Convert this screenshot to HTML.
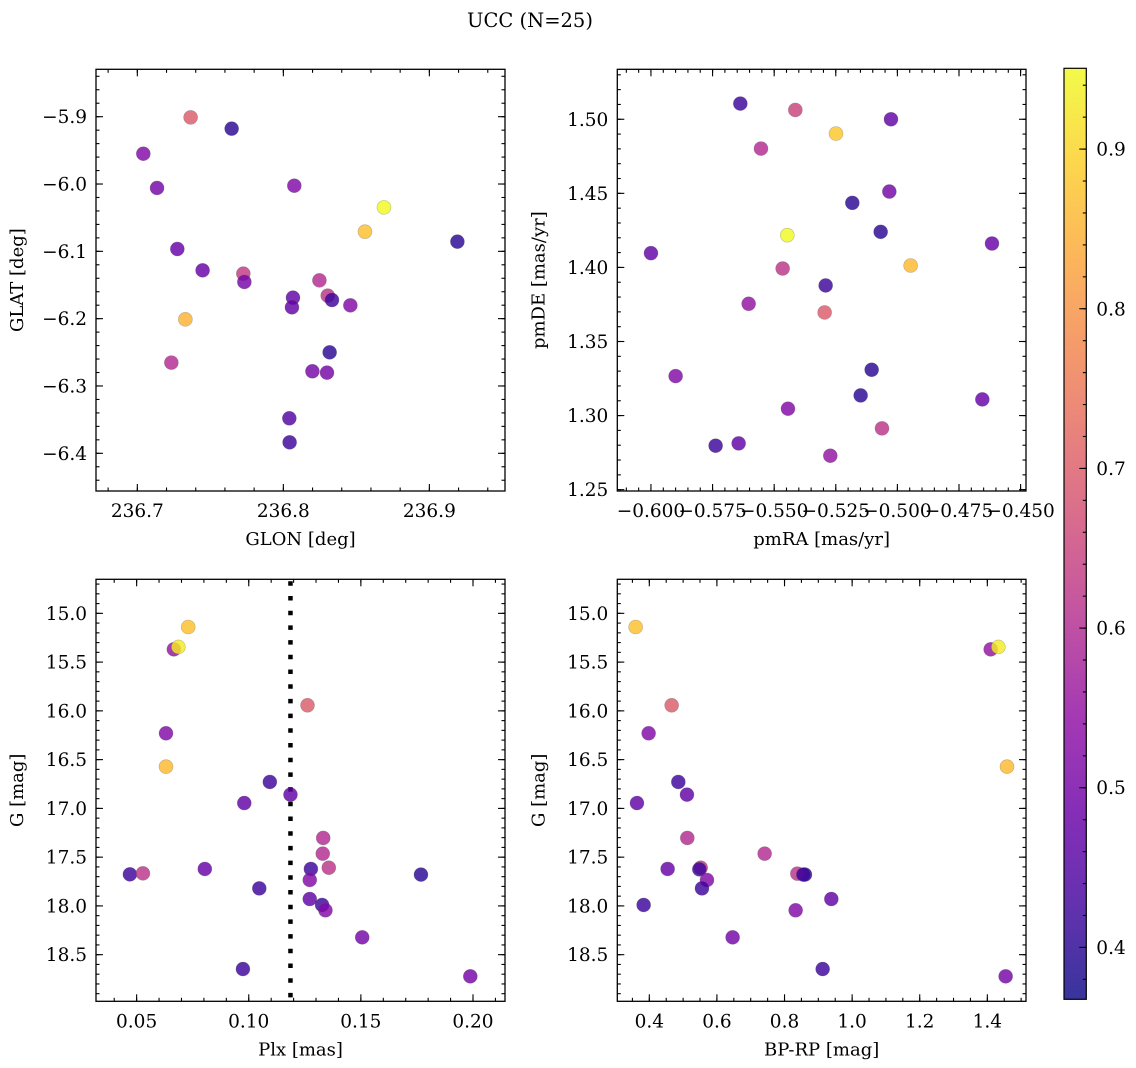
<!DOCTYPE html>
<html><head><meta charset="utf-8">
<style>
html,body{margin:0;padding:0;background:#fff;}
svg{display:block;font-family:"DejaVu Serif","Liberation Serif",serif;}
</style></head>
<body>
<svg id="fig" width="1136" height="1068" viewBox="0 0 1136 1068" xmlns="http://www.w3.org/2000/svg">
<text x="530" y="27" font-size="19.5" text-anchor="middle">UCC (N=25)</text>
</svg>
<script>
// ---- Panel 1: GLON vs GLAT ----
const p1Glon = [236.7041,236.7135,236.7365,236.7646,236.7274,236.7447,236.7726,236.7733,236.7329,236.7233,236.8075,236.8689,236.8559,236.9192,236.8247,236.8066,236.8059,236.8304,236.8333,236.8459,236.8317,236.8199,236.8299,236.8041,236.8043];
const p1Glat = [-5.9550,-6.0059,-5.9010,-5.9178,-6.0965,-6.1282,-6.1332,-6.1455,-6.2010,-6.2653,-6.0025,-6.0347,-6.0708,-6.0856,-6.1431,-6.1688,-6.1832,-6.1658,-6.1723,-6.1802,-6.2500,-6.2782,-6.2802,-6.3480,-6.3837];
const p1Prob = [0.52,0.50,0.70,0.40,0.48,0.48,0.63,0.50,0.85,0.60,0.52,0.95,0.87,0.40,0.60,0.47,0.47,0.62,0.42,0.52,0.40,0.50,0.50,0.45,0.42];
const p1XTicks = [236.7,236.8,236.9];
const p1YTicks = [-5.9,-6.0,-6.1,-6.2,-6.3,-6.4];
// ---- Panel 2: pmRA vs pmDE ----
const p2PmRA = [-0.56374,-0.54142,-0.50260,-0.52492,-0.55536,-0.50327,-0.51829,-0.50679,-0.54467,-0.60000,-0.46161,-0.54656,-0.49462,-0.52911,-0.56036,-0.52952,-0.58999,-0.51044,-0.51491,-0.54440,-0.46553,-0.50625,-0.56442,-0.57376,-0.52722];
const p2PmDE = [1.51057,1.50629,1.50000,1.49033,1.48022,1.45121,1.44357,1.42401,1.42176,1.40962,1.41614,1.39928,1.40130,1.38781,1.37545,1.36960,1.32666,1.33093,1.31362,1.30463,1.31093,1.29137,1.28125,1.27967,1.27293];
const p2Prob = [0.42,0.65,0.47,0.88,0.60,0.50,0.40,0.40,0.95,0.47,0.48,0.62,0.86,0.42,0.55,0.70,0.52,0.40,0.40,0.52,0.48,0.62,0.47,0.42,0.55];
const p2XTicks = [-0.600,-0.575,-0.550,-0.525,-0.500,-0.475,-0.450];
const p2YTicks = [1.25,1.30,1.35,1.40,1.45,1.50];
// ---- Panel 3: Plx vs G ----
const p3Plx = [0.0730,0.0666,0.0686,0.1262,0.0631,0.0631,0.1094,0.0980,0.1186,0.1332,0.1330,0.1357,0.1277,0.1272,0.1272,0.1327,0.1342,0.0470,0.0528,0.0804,0.1047,0.1768,0.1506,0.0974,0.1988];
const p3G = [15.140,15.369,15.345,15.943,16.230,16.572,16.729,16.945,16.859,17.303,17.464,17.608,17.621,17.734,17.929,17.990,18.045,17.676,17.666,17.621,17.820,17.679,18.322,18.647,18.722];
const p3Prob = [0.87,0.55,0.93,0.70,0.52,0.86,0.42,0.47,0.47,0.60,0.60,0.62,0.42,0.52,0.47,0.42,0.52,0.42,0.62,0.48,0.42,0.40,0.50,0.42,0.50];
const p3XTicks = [0.05,0.10,0.15,0.20];
const gTicks = [15.0,15.5,16.0,16.5,17.0,17.5,18.0,18.5];
const plxLine = [0.1186];
// ---- Panel 4: BP-RP vs G ----
const p4BpRp = [0.3596,1.4099,1.4325,0.4661,0.3980,1.4582,0.4858,0.3635,0.5114,0.5124,0.7412,0.5519,0.5479,0.5706,0.9385,0.3832,0.8329,0.8605,0.8379,0.4542,0.5558,0.6465,0.9128,1.4542,0.8556];
const p4G = [15.140,15.369,15.345,15.943,16.230,16.572,16.729,16.945,16.859,17.303,17.464,17.608,17.625,17.734,17.929,17.990,18.045,17.679,17.669,17.621,17.820,18.322,18.647,18.722,17.679];
const p4Prob = [0.87,0.55,0.93,0.70,0.52,0.86,0.42,0.47,0.47,0.60,0.60,0.62,0.42,0.52,0.47,0.42,0.52,0.40,0.62,0.48,0.42,0.50,0.42,0.50,0.42];
const p4XTicks = [0.4,0.6,0.8,1.0,1.2,1.4];
// ---- Colorbar ----
const cbTicks = [0.4,0.5,0.6,0.7,0.8,0.9];
const cbRange = [0.3675,0.9506];

const NS = "http://www.w3.org/2000/svg";
const svg = document.getElementById('fig');
function mk(tag, attrs, parent){ const e=document.createElementNS(NS,tag); for(const k in attrs) e.setAttribute(k,attrs[k]); (parent||svg).appendChild(e); return e; }

const plasma = [[13,8,135],[65,4,157],[106,0,168],[143,13,164],[177,42,144],[204,71,120],[225,100,98],[242,132,75],[252,166,54],[252,206,37],[240,249,33]];
function cmap(t){ t=Math.max(0,Math.min(1,t)); const f=t*10, i=Math.min(9,Math.floor(f)), r=f-i; const a=plasma[i], b=plasma[i+1];
  return 'rgb('+[0,1,2].map(k=>Math.round(a[k]+(b[k]-a[k])*r)).join(',')+')'; }
function pc(v){ return cmap((v-cbRange[0])/(cbRange[1]-cbRange[0])); }
function fmt(v,d){ const s=Math.abs(v).toFixed(d); return (v<0?'\u2212':'')+s; }

const TF = 18.5, LF = 18;
function panel(o){
  const g=mk('g',{});
  
  
  const sx=v=>o.x0+(v-o.xd[0])/(o.xd[1]-o.xd[0])*(o.x1-o.x0);
  const sy=v=>o.y1-(v-o.yd[0])/(o.yd[1]-o.yd[0])*(o.y1-o.y0);
  const mt=(lo,hi,step)=>{const out=[];const s=Math.ceil(lo/step-1e-6);for(let k=s;k*step<=hi+1e-9;k++)out.push(k*step);return out;};
  const tg=mk('g',{stroke:'#000','stroke-width':1.1},g);
  
  
  const xmin=Math.min(...o.xd), xmax=Math.max(...o.xd), ymin=Math.min(...o.yd), ymax=Math.max(...o.yd);
  mt(xmin,xmax,o.xminor).forEach(v=>{const x=sx(v); mk('line',{x1:x,x2:x,y1:o.y1,y2:o.y1-3.5},tg); mk('line',{x1:x,x2:x,y1:o.y0,y2:o.y0+3.5},tg);});
  mt(ymin,ymax,o.yminor).forEach(v=>{const y=sy(v); mk('line',{x1:o.x0,x2:o.x0+3.5,y1:y,y2:y},tg); mk('line',{x1:o.x1,x2:o.x1-3.5,y1:y,y2:y},tg);});
  o.xt.forEach(v=>{const x=sx(v); mk('line',{x1:x,x2:x,y1:o.y1,y2:o.y1-7},tg); mk('line',{x1:x,x2:x,y1:o.y0,y2:o.y0+7},tg);
    const t=mk('text',{x:x,y:o.y1+26,'font-size':TF,'text-anchor':'middle'},g); t.textContent=fmt(v,o.xdec);
     });
  o.yt.forEach(v=>{const y=sy(v); mk('line',{x1:o.x0,x2:o.x0+7,y1:y,y2:y},tg); mk('line',{x1:o.x1,x2:o.x1-7,y1:y,y2:y},tg);
    const t=mk('text',{x:o.x0-9,y:y+6.5,'font-size':TF,'text-anchor':'end'},g); t.textContent=fmt(v,o.ydec);
     });
  if(o.vline){ o.vline.forEach(v=>{const l=mk('line',{x1:sx(v),x2:sx(v),y1:o.y0+2,y2:o.y1,stroke:'#000','stroke-width':4.5,'stroke-dasharray':'4.5 10.2'},g);
     }); }
  const pg=mk('g',{},g);
   
  o.xs.forEach((v,i)=>{const c=mk('circle',{cx:sx(v),cy:sy(o.ys[i]),r:7,fill:pc(o.p[i]),'fill-opacity':0.82,stroke:'rgba(80,80,80,0.35)','stroke-width':0.6},pg);
     });
  const fr=mk('rect',{x:o.x0,y:o.y0,width:o.x1-o.x0,height:o.y1-o.y0,fill:'none',stroke:'#000','stroke-width':1.3},g);
   
  const xl=mk('text',{x:(o.x0+o.x1)/2,y:o.y1+54,'font-size':LF,'text-anchor':'middle'},g); xl.textContent=o.xlabel;
   
  const yc=(o.y0+o.y1)/2, yx=o.x0-73;
  const yl=mk('text',{x:yx,y:yc,'font-size':LF,'text-anchor':'middle',transform:'rotate(-90 '+yx+' '+yc+')'},g); yl.textContent=o.ylabel;
   
}

panel({name:'glon-glat-panel',x0:96,x1:505,y0:69.3,y1:491,xd:[236.6717,236.9518],yd:[-6.456,-5.8296],xs:p1Glon,ys:p1Glat,p:p1Prob,xt:p1XTicks,yt:p1YTicks,xminor:0.02,yminor:0.02,xdec:1,ydec:1,xlabel:'GLON [deg]',ylabel:'GLAT [deg]'});
panel({name:'pm-panel',x0:617.3,x1:1026,y0:69.3,y1:491,xd:[-0.61366,-0.44781],yd:[1.2491,1.53372],xs:p2PmRA,ys:p2PmDE,p:p2Prob,xt:p2XTicks,yt:p2YTicks,xminor:0.005,yminor:0.01,xdec:3,ydec:2,xlabel:'pmRA [mas/yr]',ylabel:'pmDE [mas/yr]'});
panel({name:'plx-g-panel',x0:96,x1:505,y0:579.3,y1:1001.3,xd:[0.03188,0.21427],yd:[18.978,14.651],xs:p3Plx,ys:p3G,p:p3Prob,xt:p3XTicks,yt:gTicks,xminor:0.01,yminor:0.1,xdec:2,ydec:1,xlabel:'Plx [mas]',ylabel:'G [mag]',vline:plxLine});
panel({name:'cmd-panel',x0:617.3,x1:1026,y0:579.3,y1:1001.3,xd:[0.3053,1.5144],yd:[18.978,14.651],xs:p4BpRp,ys:p4G,p:p4Prob,xt:p4XTicks,yt:gTicks,xminor:0.05,yminor:0.1,xdec:1,ydec:1,xlabel:'BP-RP [mag]',ylabel:'G [mag]'});

// colorbar
(function(){
  const x0=1064,x1=1086.3,y0=68.3,y1=999.3;
  const g=mk('g',{});
   
  const defs=mk('defs',{},g);
  const lg=mk('linearGradient',{id:'cbg',x1:0,y1:1,x2:0,y2:0},defs);
  for(let i=0;i<=20;i++){ mk('stop',{offset:(i/20),'stop-color':cmap(i/20),'stop-opacity':0.82},lg); }
  mk('rect',{x:x0,y:y0,width:x1-x0,height:y1-y0,fill:'url(#cbg)'},g);
  const sy=v=>y1-(v-cbRange[0])/(cbRange[1]-cbRange[0])*(y1-y0);
  for(let k=Math.ceil(cbRange[0]/0.02);k*0.02<=cbRange[1];k++){const y=sy(k*0.02); mk('line',{x1:x1,x2:x1-3.5,y1:y,y2:y,stroke:'#000','stroke-width':1.1},g);}
  cbTicks.forEach(v=>{const y=sy(v); mk('line',{x1:x1,x2:x1-7,y1:y,y2:y,stroke:'#000','stroke-width':1.1},g);
    const t=mk('text',{x:x1+10,y:y+6.5,'font-size':TF},g); t.textContent=v.toFixed(1);
     });
  mk('rect',{x:x0,y:y0,width:x1-x0,height:y1-y0,fill:'none',stroke:'#000','stroke-width':1.2},g);
})();
</script>
</body></html>
